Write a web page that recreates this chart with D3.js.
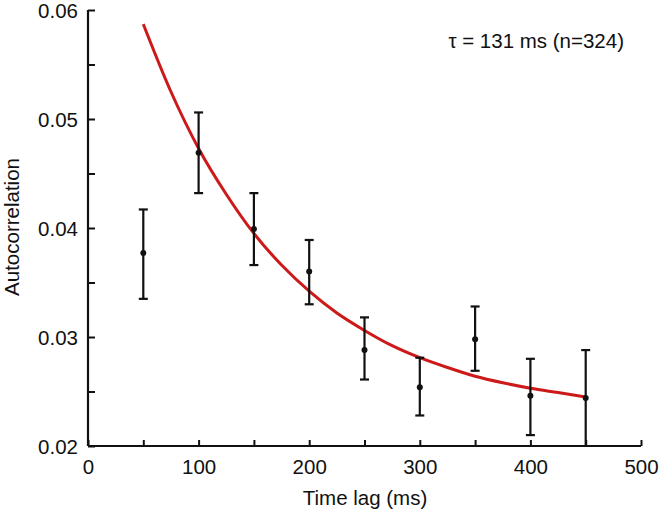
<!DOCTYPE html>
<html><head><meta charset="utf-8">
<script src="https://cdn.jsdelivr.net/npm/d3@7"></script>
<style>body{margin:0;background:#fff}text{font-family:"Liberation Sans",Arial,sans-serif;fill:#111}</style>
</head><body><svg id="c" width="660" height="515"></svg>
<script>
const lags = [50,100,150,200,250,300,350,400,450];
const means = [0.0377,0.0469,0.0399,0.0360,0.0288,0.0254,0.0298,0.0246,0.0244];
const upper = [0.0417,0.0506,0.0432,0.0389,0.0318,0.0281,0.0328,0.0280,0.0288];
const lower = [0.0335,0.0432,0.0366,0.0330,0.0261,0.0228,0.0269,0.0210,0.0200];
const fitX = [50,75,100,125,150,175,200,225,250,275,300,325,350,375,400,425,450];
const fitY = [0.0587,0.0525,0.0473,0.0431,0.0395,0.0366,0.0342,0.0322,0.0306,0.0292,0.0281,0.0272,0.0264,0.0258,0.0253,0.0249,0.0245];
const xTicks = [0,100,200,300,400,500];
const yTicks = [0.02,0.03,0.04,0.05,0.06];
const label = "τ = 131 ms (n=324)";
const FS = 20.5;

const svg = d3.select("#c");
const x = d3.scaleLinear().domain([0,500]).range([88,641]);
const y = d3.scaleLinear().domain([0.02,0.06]).range([446,10]);

// axes
const xa = svg.append("g").attr("transform","translate(0,446)")
  .call(d3.axisBottom(x).tickValues(d3.range(0,501,50)).tickSize(-6).tickPadding(13)
    .tickFormat(d => xTicks.includes(d) ? d : ""));
const ya = svg.append("g").attr("transform","translate(88,0)")
  .call(d3.axisLeft(y).tickValues(d3.range(0,9).map(i=>0.02+i*0.005)).tickSize(-7).tickPadding(10)
    .tickFormat(d => yTicks.some(t=>Math.abs(t-d)<1e-9) ? d3.format(".2f")(d) : ""));
[xa,ya].forEach(a=>{
  a.select(".domain").attr("stroke","#111").attr("stroke-width",2.2);
  a.selectAll(".tick line").attr("stroke","#111").attr("stroke-width",2);
  a.selectAll(".tick text").attr("font-size",FS).attr("fill","#111").style("font-family","Liberation Sans, Arial, sans-serif");
});
xa.selectAll(".domain").attr("d","M88,0H641");
ya.selectAll(".domain").attr("d","M0,10V446");
ya.selectAll(".tick text").attr("dy","0.36em");

// fit curve
svg.append("path").datum(fitX.map((d,i)=>[d,fitY[i]]))
  .attr("fill","none").attr("stroke","#cc1a1a").attr("stroke-width",3)
  .attr("d", d3.line().x(d=>x(d[0])).y(d=>y(d[1])).curve(d3.curveMonotoneX));

// error bars
const g = svg.append("g").attr("stroke","#111").attr("stroke-width",2.2);
lags.forEach((l,i)=>{
  const cx = x(l);
  g.append("line").attr("x1",cx).attr("x2",cx).attr("y1",y(upper[i])).attr("y2",y(lower[i]));
  g.append("line").attr("x1",cx-4.5).attr("x2",cx+4.5).attr("y1",y(upper[i])).attr("y2",y(upper[i]));
  if (lower[i] > 0.0201)
    g.append("line").attr("x1",cx-4.5).attr("x2",cx+4.5).attr("y1",y(lower[i])).attr("y2",y(lower[i]));
});
svg.append("g").selectAll("circle").data(lags).join("circle")
  .attr("cx",d=>x(d)).attr("cy",(d,i)=>y(means[i])).attr("r",3).attr("fill","#111");

// labels
svg.append("text").attr("x",624).attr("y",48).attr("text-anchor","end").attr("font-size",FS).text(label);
svg.append("text").attr("x",365).attr("y",505).attr("text-anchor","middle").attr("font-size",FS).text("Time lag (ms)");
svg.append("text").attr("transform","translate(19,227) rotate(-90)").attr("text-anchor","middle").attr("font-size",FS).text("Autocorrelation");
</script></body></html>
